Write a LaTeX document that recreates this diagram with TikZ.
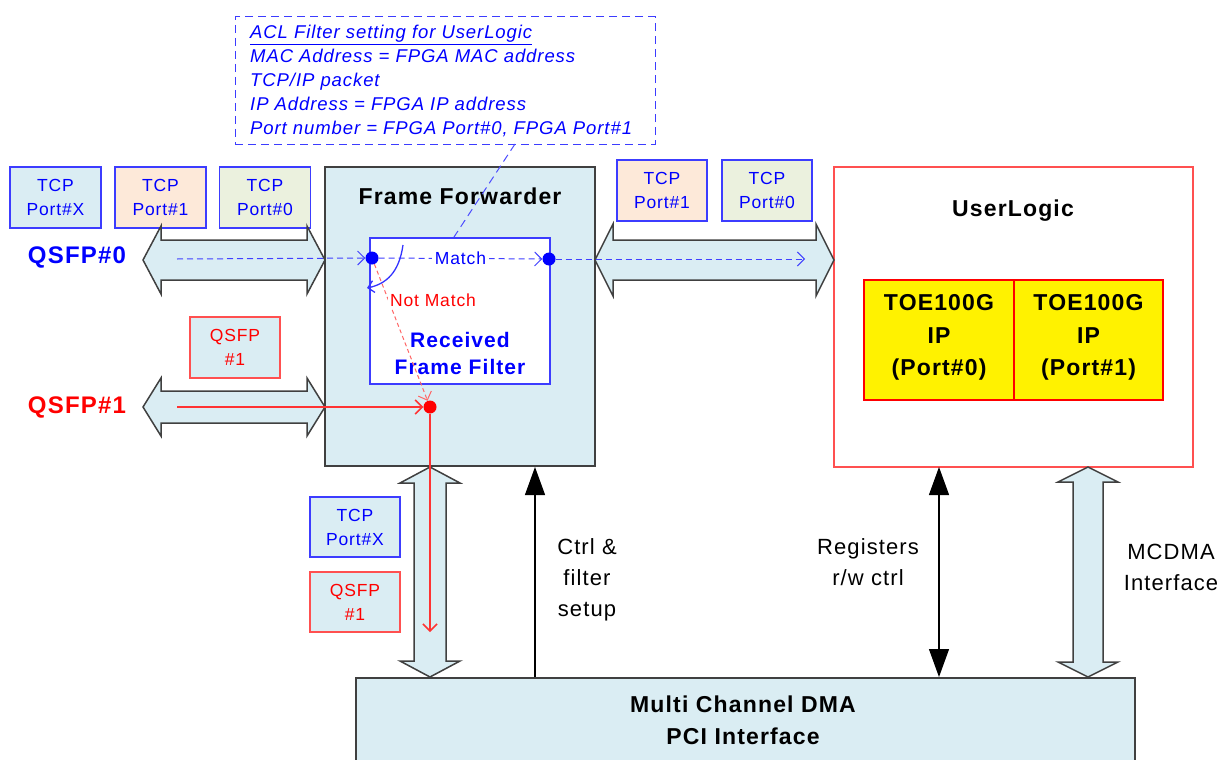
\documentclass[tikz,border=0pt]{standalone}
\usepackage{fontspec}
\setmainfont{Liberation Sans}[LetterSpace=5]
\usetikzlibrary{arrows.meta}
\definecolor{lblue}{RGB}{218,237,243}
\definecolor{peach}{RGB}{253,233,217}
\definecolor{lgreen}{RGB}{235,241,222}
\definecolor{bblue}{RGB}{60,60,255}
\definecolor{tblue}{RGB}{0,0,255}
\definecolor{tred}{RGB}{255,0,0}
\definecolor{bred}{RGB}{255,80,80}
\definecolor{dgray}{RGB}{64,64,64}
\newcommand{\myharrow}[6]{%
 \filldraw[dblarrow] (#1,#3) -- (#1+#6,#3-#5) -- (#1+#6,#3-#4) -- (#2-#6,#3-#4) -- (#2-#6,#3-#5) -- (#2,#3) -- (#2-#6,#3+#5) -- (#2-#6,#3+#4) -- (#1+#6,#3+#4) -- (#1+#6,#3+#5) -- cycle;}
\newcommand{\myvarrow}[6]{%
 \filldraw[dblarrow] (#3,#1) -- (#3-#5,#1+#6) -- (#3-#4,#1+#6) -- (#3-#4,#2-#6) -- (#3-#5,#2-#6) -- (#3,#2) -- (#3+#5,#2-#6) -- (#3+#4,#2-#6) -- (#3+#4,#1+#6) -- (#3+#5,#1+#6) -- cycle;}
\tikzset{
 dblarrow/.style={fill=lblue, draw=dgray, line width=1.5, line join=miter},
 small/.style={font=\fontsize{17.5}{24}\selectfont, align=center, inner sep=0},
 tcpbox/.style={small, draw=bblue, line width=1.3, text=tblue, minimum width=91, minimum height=61},
 qbox/.style={small, draw=bred, line width=1.3, text=tred, fill=lblue, minimum width=90, minimum height=61},
 head/.style={font=\fontsize{23}{32}\selectfont\bfseries, align=center, inner sep=0},
 mid/.style={font=\fontsize{22}{31}\selectfont, align=center, inner sep=0},
 bdot/.style={circle, fill=tblue, minimum size=13, inner sep=0},
 rdot/.style={circle, fill=tred, minimum size=13, inner sep=0},
 barb/.style={-{Straight Barb[length=7,width=14]}},
 blk/.style={-{Triangle[length=28,width=20]}, line width=1.2, black},
}
\begin{document}
\begin{tikzpicture}[x=1pt,y=-1pt]
\useasboundingbox (0,0) rectangle (1224,760);
\clip (0,0) rectangle (1224,760);
% ACL box
\node[draw=bblue, dash pattern=on 8pt off 5pt, line width=1, minimum width=420, minimum height=127, inner sep=0] (acl) at (445,80.5) {};
\node[anchor=west, inner sep=0, text=tblue, font=\fontsize{18.5}{24}\selectfont\itshape, align=left] (acltext) at (250,81)
 {\underline{ACL Filter setting for UserLogic}\\MAC Address = FPGA MAC address\\TCP/IP packet\\IP Address = FPGA IP address\\Port number = FPGA Port\#0, FPGA Port\#1};
% main boxes
\node[draw=dgray, fill=lblue, line width=1.5, minimum width=270, minimum height=299] (ff) at (460,316.5) {};
\node[draw=bred, fill=white, line width=1.5, minimum width=359, minimum height=300] (ul) at (1013.5,317) {};
\node[draw=dgray, fill=lblue, line width=1.5, minimum width=779, minimum height=120, anchor=north west] (dma) at (355,677) {};
\node[head] at (460,196) {Frame Forwarder};
\node[head] at (1013,211) {UserLogic};
\node[head] at (743,720.5) {Multi Channel DMA\\PCI Interface};
% filter box
\node[draw=bblue, fill=white, line width=2, minimum width=180, minimum height=146] (filt) at (460,311) {};
\node[font=\fontsize{21}{27}\selectfont\bfseries, align=center, inner sep=0, text=tblue] at (460,353.5) {Received\\Frame Filter};
% TOE boxes
\node[draw=tred, fill=yellow, line width=2, minimum width=150, minimum height=120] (toe0) at (939,340) {};
\node[draw=tred, fill=yellow, line width=2, minimum width=149, minimum height=120] (toe1) at (1088.5,340) {};
\node[head, font=\fontsize{23}{32.5}\selectfont\bfseries] at (939,337.5) {TOE100G\\IP\\(Port\#0)};
\node[head, font=\fontsize{23}{32.5}\selectfont\bfseries] at (1088.5,337.5) {TOE100G\\IP\\(Port\#1)};
% small boxes
\node[tcpbox, fill=lblue] (tcpX) at (55.5,197.5) {TCP\\Port\#X};
\node[tcpbox, fill=peach] (tcp1L) at (160.5,197.5) {TCP\\Port\#1};
\node[tcpbox, fill=lgreen] (tcp0L) at (265,197.5) {TCP\\Port\#0};
\node[tcpbox, fill=peach, minimum width=90] (tcp1R) at (662,190.5) {TCP\\Port\#1};
\node[tcpbox, fill=lgreen, minimum width=90] (tcp0R) at (767,190.5) {TCP\\Port\#0};
\node[qbox] (q1box) at (235,347.5) {QSFP\\\#1};
\node[tcpbox, fill=lblue, minimum width=90, minimum height=60] (tcpXB) at (355,527) {TCP\\Port\#X};
\node[qbox, minimum height=60] (q1B) at (355,602) {QSFP\\\#1};
% labels
\node[head, font=\fontsize{24}{28}\selectfont\bfseries, text=tblue] (lq0) at (77,257) {QSFP\#0};
\node[head, font=\fontsize{24}{28}\selectfont\bfseries, text=tred] (lq1) at (77,407) {QSFP\#1};
% double arrows
\myharrow{143}{325}{260}{20}{34}{18}
\myharrow{143}{325}{407}{16}{29}{18}
\myharrow{595}{834}{260}{20}{36}{18}
\myvarrow{467}{677}{430}{16}{30}{16}
\myvarrow{467}{677}{1088}{15}{30}{15}
% dots and coordinates
\node[bdot] (d1) at (372,258) {};
\node[bdot] (d2) at (549,259) {};
\node[rdot] (d3) at (430,407) {};
\coordinate (s0) at (177,259);
\coordinate (e0) at (805,259);
\coordinate (s1) at (177,407);
\coordinate (e1) at (430,632);
% blue dashed path
\draw[tblue!75, dash pattern=on 6pt off 4pt, line width=1, barb] (s0) -- (d1);
\draw[tblue!75, dash pattern=on 6pt off 4pt, line width=1, barb] (d1) -- node[fill=white, inner sep=3, font=\fontsize{17.5}{20}\selectfont, text=tblue] (match) {Match} (d2);
\draw[tblue!75, dash pattern=on 6pt off 4pt, line width=1, barb] (d2) -- (e0);
% curved arrow
\draw[tblue!80, line width=1.3, -{Straight Barb[length=6,width=12]}] (403,245) .. controls (399,273) and (386,284) .. (367,288);
% not match
\draw[tred!60, dash pattern=on 4pt off 3pt, line width=1, barb] (d1) -- (d3);
\node[fill=white, inner sep=2, font=\fontsize{17.5}{20}\selectfont, text=tred] (nm) at (433,300) {Not Match};
% red solid
\draw[tred!80, line width=1.5, barb] (s1) -- (d3);
\draw[tred!80, line width=1.5, barb] (d3) -- (e1);
% ACL connector
\draw[tblue!70, dash pattern=on 8pt off 5pt, line width=1] (515,144) -- (filt.north -| 454,0);
% black arrows
\coordinate (c1) at (535,677);
\coordinate (c2) at (535,467);
\draw[blk] (c1) -- (c2);
\coordinate (r1) at (939,677);
\coordinate (r2) at (939,467);
\draw[blk, {Triangle[length=28,width=20]}-{Triangle[length=28,width=20]}] (r1) -- (r2);
\node[mid] at (587,579.5) {Ctrl \&\\filter\\setup};
\node[mid] at (868,562) {Registers\\r/w ctrl};
\node[mid] at (1171,567.5) {MCDMA\\Interface};
\end{tikzpicture}
\end{document}
